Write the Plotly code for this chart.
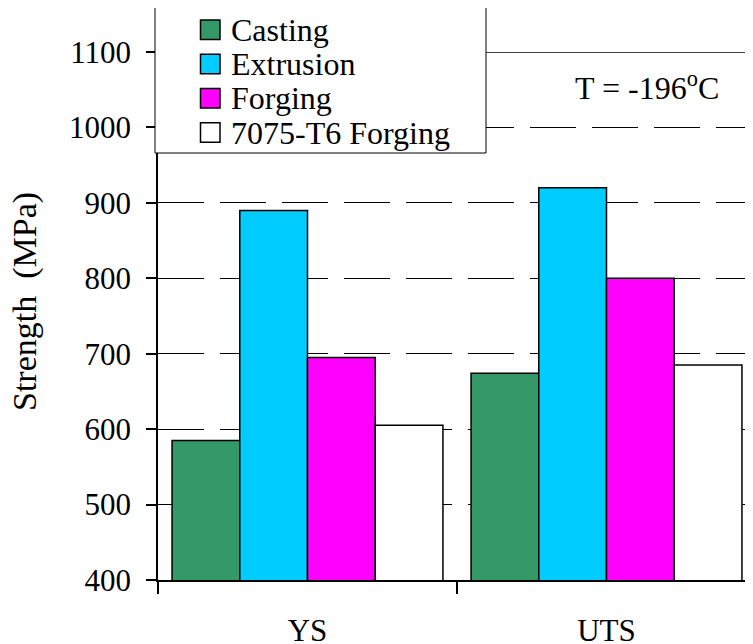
import plotly.graph_objects as go

# data
categories = ["YS", "UTS"]
series_names = ["Casting", "Extrusion", "Forging", "7075-T6 Forging"]
casting = [585, 674]
extrusion = [890, 920]
forging = [695, 800]
forging_7075 = [605, 685]
colors = ["#339966", "#00CCFF", "#FF00FF", "#FFFFFF"]

values = [casting, extrusion, forging, forging_7075]

# page body has an 8px margin, so figure coords = screen coords - 8
OFF = 8
W, H = 753, 644
L, R, T, B = 158 - OFF, 0, 52 - OFF, 644 - (580 - OFF)
pw, ph = W - L - R, H - T - B
cat_w = 299.0


def px(x):
    return (x - OFF - L) / pw


def py(y):
    return (H - B - (y - OFF)) / ph


FONT = "Times New Roman, Liberation Serif, Times, serif"

fig = go.Figure()
for name, vals, col in zip(series_names, values, colors):
    fig.add_trace(go.Bar(
        x=categories, y=vals, name=name,
        marker=dict(color=col, line=dict(color="black", width=1.5)),
        showlegend=False,
    ))

fig.update_layout(
    width=W, height=H,
    margin=dict(l=L, r=R, t=T, b=B, autoexpand=False),
    paper_bgcolor="white", plot_bgcolor="white",
    barmode="group", bargap=0.094, bargroupgap=0,
    font=dict(family=FONT, size=31, color="black"),
)

fig.update_xaxes(
    type="category", range=[-0.5, -0.5 + pw / cat_w], automargin=False,
    showline=True, linecolor="black", linewidth=1.5,
    ticks="outside", tickson="boundaries", ticklen=12, tickwidth=1.5, tickcolor="black",
    showgrid=False, ticklabelstandoff=22,
    tickfont=dict(family=FONT, size=31),
)
fig.update_yaxes(
    range=[400, 1100], dtick=100, automargin=False,
    showline=True, linecolor="black", linewidth=1.5,
    ticks="outside", ticklen=10, tickwidth=1.5, tickcolor="black",
    showgrid=True, gridcolor="black", gridwidth=1.3, griddash="46px,16px",
    zeroline=False, ticklabelstandoff=9,
    tickfont=dict(family=FONT, size=31),
)

# y title sits a bit above the plot centre in the original, so place it by hand
fig.add_annotation(x=px(25), y=py(302), xref="paper", yref="paper",
                   text="Strength\u00a0 (MPa)", textangle=-90, showarrow=False,
                   xanchor="center", yanchor="middle",
                   font=dict(family=FONT, size=34))

# solid top line at 1100
fig.add_shape(type="line", xref="paper", yref="y", x0=0, x1=1, y0=1100, y1=1100,
              line=dict(color="black", width=1.5), layer="above")

# legend box drawn by hand so the swatches match the original size
fig.add_shape(type="rect", xref="paper", yref="paper",
              x0=px(155), x1=px(486), y0=py(153), y1=py(7),
              fillcolor="white", line=dict(color="black", width=1), layer="above")
row_y = [29.7, 64.0, 98.3, 132.6]
for name, col, yc in zip(series_names, colors, row_y):
    fig.add_shape(type="rect", xref="paper", yref="paper",
                  x0=px(200.5), x1=px(220), y0=py(yc + 9.75), y1=py(yc - 9.75),
                  fillcolor=col, line=dict(color="black", width=1.5), layer="above")
    fig.add_annotation(x=px(229), y=py(yc), xref="paper", yref="paper",
                       text=name, showarrow=False, xanchor="left", yanchor="middle",
                       font=dict(family=FONT, size=32))

fig.add_annotation(x=px(647), y=py(86), xref="paper", yref="paper",
                   text="T = -196<sup>o</sup>C", showarrow=False,
                   xanchor="center", yanchor="middle",
                   font=dict(family=FONT, size=32))

fig.write_html("out.html")
